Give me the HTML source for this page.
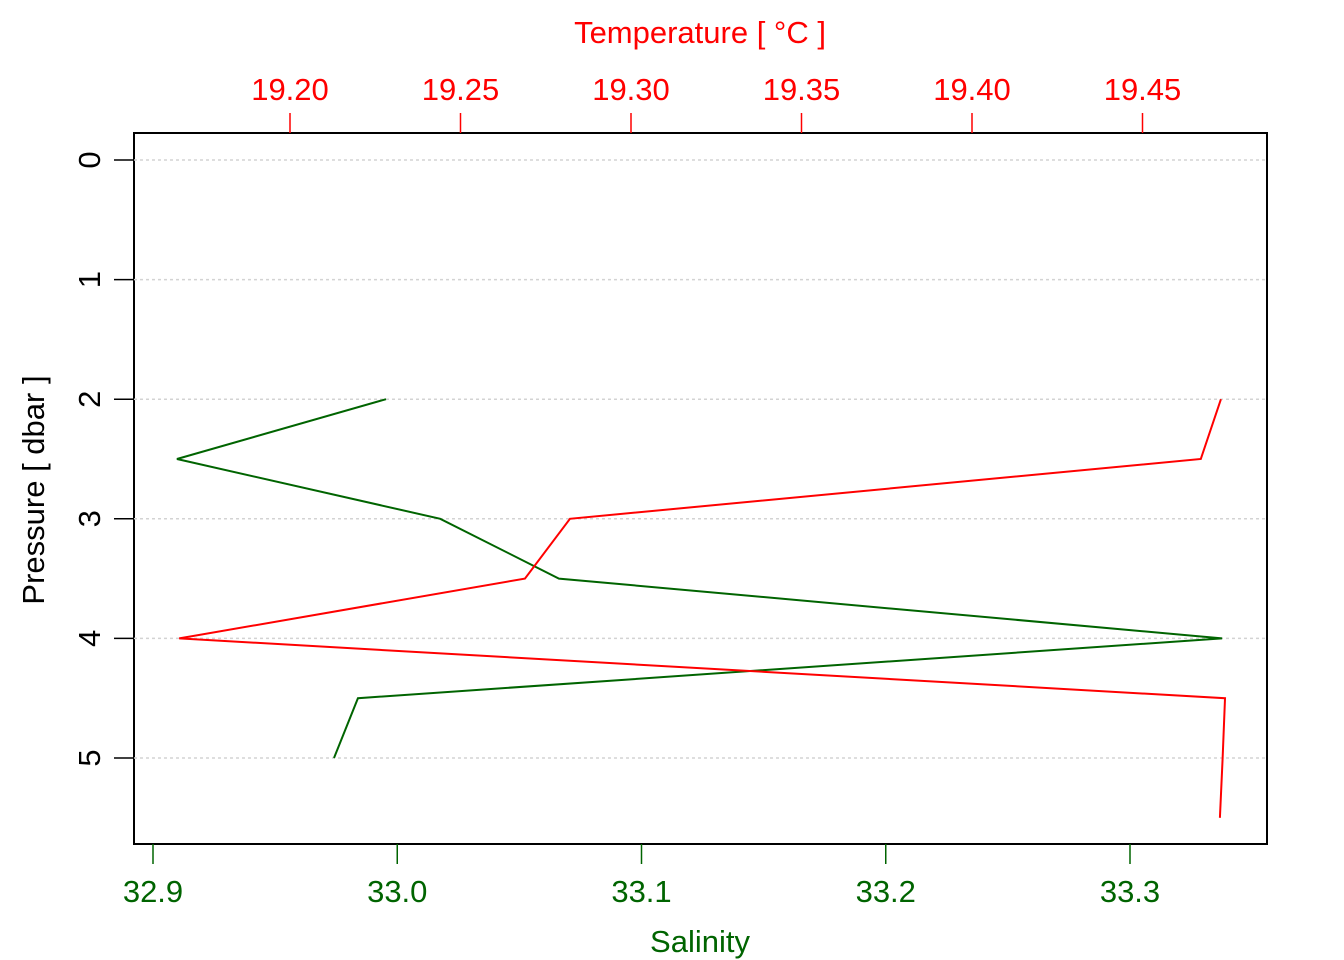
<!DOCTYPE html>
<html><head><meta charset="utf-8"><style>
body{margin:0;background:#fff}
svg{display:block;font-family:"Liberation Sans",sans-serif}
</style></head><body>
<svg id="chart" width="1344" height="960" xmlns="http://www.w3.org/2000/svg">
<rect x="134" y="133" width="1133" height="711" fill="none" stroke="#000" stroke-width="2"/>
<g id="grid"></g><g id="axes"></g><g id="series"></g>
<text x="700" y="952" font-size="31" fill="#006400" text-anchor="middle">Salinity</text>
<text x="700" y="43" font-size="31" fill="#ff0000" text-anchor="middle">Temperature [ °C ]</text>
<text transform="translate(44,490) rotate(-90)" font-size="31" fill="#000" text-anchor="middle">Pressure [ dbar ]</text>
</svg>
<script>
const salTicks=[32.9,33.0,33.1,33.2,33.3];
const salTickLabels=["32.9","33.0","33.1","33.2","33.3"];
const tempTicks=[19.20,19.25,19.30,19.35,19.40,19.45];
const tempTickLabels=["19.20","19.25","19.30","19.35","19.40","19.45"];
const presTicks=[0,1,2,3,4,5];
const salPressure=[2,2.5,3,3.5,4,4.5,5];
const salinity=[32.9954,32.9098,33.0176,33.0662,33.3377,32.9839,32.9741];
const tempPressure=[2,2.5,3,3.5,4,4.5,5,5.5];
const temperature=[19.4730,19.4671,19.2821,19.2689,19.1675,19.4742,19.4735,19.4727];
const NS="http://www.w3.org/2000/svg";
const xS=v=>153+(v-32.9)*2442.5;
const xT=v=>290+(v-19.20)*3410;
const yP=v=>160+v*119.6;
function mk(tag,attrs,parent){const e=document.createElementNS(NS,tag);for(const k in attrs)e.setAttribute(k,attrs[k]);document.getElementById(parent).appendChild(e);return e;}
presTicks.forEach((p,i)=>{
 const g=mk('line',{x1:134,x2:1267,y1:yP(p),y2:yP(p),stroke:'#d3d3d3','stroke-width':1.5,'stroke-dasharray':'3,3'},'grid');
 
 
 const t=mk('line',{x1:114,x2:134,y1:yP(p),y2:yP(p),stroke:'#000','stroke-width':1.5},'axes');
 
 
 const l=mk('text',{transform:`translate(100,${yP(p)}) rotate(-90)`,'font-size':31,'text-anchor':'middle'},'axes');
 
 
 l.textContent=String(p);
});
salTicks.forEach((v,i)=>{
 const t=mk('line',{x1:xS(v),x2:xS(v),y1:844,y2:864,stroke:'#006400','stroke-width':1.5},'axes');
 
 
 const l=mk('text',{x:xS(v),y:902,'font-size':31,fill:'#006400','text-anchor':'middle'},'axes');
 
 
 l.textContent=salTickLabels[i];
});
tempTicks.forEach((v,i)=>{
 const t=mk('line',{x1:xT(v),x2:xT(v),y1:113,y2:133,stroke:'#ff0000','stroke-width':1.5},'axes');
 
 
 const l=mk('text',{x:xT(v),y:100,'font-size':31,fill:'#ff0000','text-anchor':'middle'},'axes');
 
 
 l.textContent=tempTickLabels[i];
});
const sl=mk('polyline',{points:salinity.map((v,i)=>xS(v)+','+yP(salPressure[i])).join(' '),fill:'none',stroke:'#006400','stroke-width':2},'series');


const tl=mk('polyline',{points:temperature.map((v,i)=>xT(v)+','+yP(tempPressure[i])).join(' '),fill:'none',stroke:'#ff0000','stroke-width':2},'series');


</script>
</body></html>
